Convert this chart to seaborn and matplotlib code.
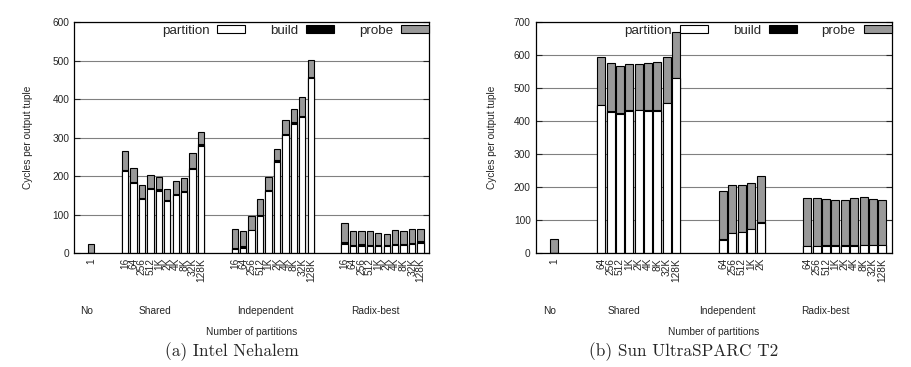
import matplotlib.pyplot as plt
import matplotlib.patches as mpatches
import seaborn

seaborn.set_style("white")
plt.rcParams['font.family'] = ['Liberation Sans', 'DejaVu Sans']

# Intel Nehalem
neh_groups = ["No", "Shared", "Independent", "Radix-best"]
neh_labels = [
    ["1"],
    ["16", "64", "256", "512", "1K", "2K", "4K", "8K", "32K", "128K"],
    ["16", "64", "256", "512", "1K", "2K", "4K", "8K", "32K", "128K"],
    ["16", "64", "256", "512", "1K", "2K", "4K", "8K", "32K", "128K"],
]
neh_partition = [
    [0],
    [214, 183, 141, 167, 163, 136, 151, 159, 219, 279],
    [12, 15, 60, 98, 163, 238, 308, 337, 355, 455],
    [25, 18, 19, 18, 18, 18, 22, 22, 25, 28],
]
neh_build = [
    [0],
    [3, 2, 2, 2, 4, 3, 2, 2, 2, 4],
    [1, 3, 1, 1, 1, 4, 1, 3, 1, 4],
    [4, 4, 4, 4, 3, 3, 3, 2, 2, 4],
]
neh_probe = [
    [24],
    [49, 37, 34, 34, 31, 28, 36, 35, 40, 33],
    [49, 39, 37, 41, 34, 30, 38, 36, 50, 44],
    [50, 36, 35, 36, 32, 30, 35, 34, 37, 31],
]

# Sun UltraSPARC T2
t2_groups = ["No", "Shared", "Independent", "Radix-best"]
t2_labels = [
    ["1"],
    ["64", "256", "512", "1K", "2K", "4K", "8K", "32K", "128K"],
    ["64", "256", "512", "1K", "2K"],
    ["64", "256", "512", "1K", "2K", "4K", "8K", "32K", "128K"],
]
t2_partition = [
    [0],
    [448, 428, 423, 431, 433, 431, 431, 454, 530],
    [39, 61, 65, 73, 91],
    [21, 21, 22, 22, 22, 22, 24, 24, 24],
]
t2_build = [
    [0],
    [1, 4, 1, 3, 1, 3, 3, 1, 1],
    [4, 1, 1, 1, 4],
    [1, 1, 3, 3, 3, 3, 1, 1, 1],
]
t2_probe = [
    [42],
    [145, 145, 143, 140, 139, 142, 145, 139, 139],
    [145, 144, 141, 138, 139],
    [145, 145, 139, 136, 136, 142, 145, 139, 136],
]

GRAY = "#999999"
SMALL = 7.3


def flat(lists):
    return [v for l in lists for v in l]


def draw(ax, groups, labels, partition, build, probe, gap, width, ymax, name_x, caption, cap_x):
    # bar slots: groups next to each other with some empty slots in between
    pos = []
    start = 0
    for l in labels:
        pos += [start + i for i in range(len(l))]
        start += len(l) + gap
    p = flat(partition)
    b = flat(build)
    pr = flat(probe)
    pb = [x + y for x, y in zip(p, b)]
    total = [x + y for x, y in zip(pb, pr)]

    # stacked bars drawn as overlapping bars
    for vals, col in [(total, GRAY), (pb, "black"), (p, "white")]:
        seaborn.barplot(x=pos, y=vals, native_scale=True, orient="x", width=width,
                        color=col, edgecolor="black", linewidth=0.8, saturation=1,
                        errorbar=None, ax=ax)

    ax.set_xlim(-2, pos[-1] + 1)
    ax.set_ylim(0, ymax)
    ax.set_yticks(range(0, ymax + 1, 100))
    ax.set_xticks(pos)
    ax.set_xticklabels(flat(labels), rotation=90, fontsize=SMALL, va="top")
    ax.tick_params(axis="y", direction="in", length=4, width=0.8, labelsize=SMALL,
                   left=True, right=True, pad=3.6)
    ax.tick_params(axis="x", direction="in", length=2.5, width=0.6, bottom=True, pad=3.4)
    ax.set_axisbelow(True)
    ax.yaxis.grid(True, color="#808080", linewidth=0.8)
    ax.xaxis.grid(False)
    for s in ax.spines.values():
        s.set_color("black")
        s.set_linewidth(0.9)

    ax.set_ylabel("Cycles per output tuple", fontsize=SMALL)
    ax.set_xlabel("")
    for g, x in zip(groups, name_x):
        ax.text(x, -0.25, g, transform=ax.get_xaxis_transform(), ha="center",
                va="center", fontsize=SMALL)
    ax.text(0.5, -0.339, "Number of partitions", transform=ax.transAxes,
            ha="center", va="center", fontsize=SMALL)
    ax.figure.text(cap_x, 0.041, caption, family="cmr10", fontsize=12.4,
                   ha="center", va="center")

    handles = [
        mpatches.Patch(facecolor="white", edgecolor="black", linewidth=0.8, label="partition"),
        mpatches.Patch(facecolor="black", edgecolor="black", linewidth=0.8, label="build"),
        mpatches.Patch(facecolor=GRAY, edgecolor="black", linewidth=0.8, label="probe"),
    ]
    ax.legend(handles=handles, ncol=3, loc="center right",
              bbox_to_anchor=(1.0, 1 - 8.4 / 231), frameon=False, markerfirst=False,
              fontsize=9.6, handlelength=2.1, handleheight=0.55, handletextpad=0.6,
              columnspacing=1.85, borderpad=0, borderaxespad=0)


fig = plt.figure(figsize=(9.11, 3.67), dpi=100)
ax1 = fig.add_axes([0.0816, 0.3098, 0.3893, 0.6294])
ax2 = fig.add_axes([0.588, 0.3098, 0.3908, 0.6294])

draw(ax1, neh_groups, neh_labels, neh_partition, neh_build, neh_probe,
     gap=3, width=0.75, ymax=600, name_x=[-0.5, 7.55, 20.6, 33.6],
     caption="(a) Intel Nehalem", cap_x=0.254)
draw(ax2, t2_groups, t2_labels, t2_partition, t2_build, t2_probe,
     gap=4, width=0.85, ymax=700, name_x=[-0.48, 7.43, 18.5, 28.9],
     caption="(b) Sun UltraSPARC T2", cap_x=0.7506)

ax1.yaxis.set_label_coords(-0.1164, 0.5)
ax2.yaxis.set_label_coords(-0.1087, 0.5)

plt.savefig("out.png", dpi=100)
